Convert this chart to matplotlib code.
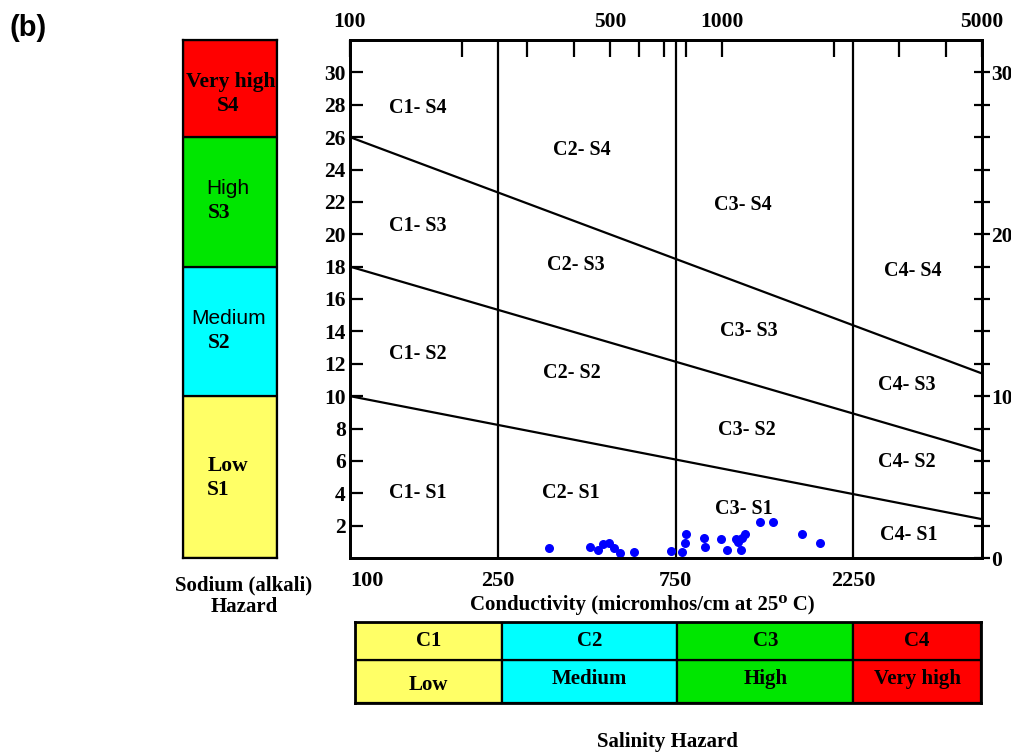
import matplotlib
matplotlib.use('Agg')
import matplotlib.pyplot as plt
from matplotlib.ticker import FixedLocator, NullFormatter

SERIF = 'Liberation Serif'
SANS = 'Liberation Sans'

# class limits
ec_bounds = [100, 250, 750, 2250, 5000]
sar_bounds = [0, 10, 18, 26, 32]
hazard_colors = ['#ffff66', '#00ffff', '#00e600', '#ff0000']

# SAR class boundary lines: value at EC=100 and at EC=5000
line_left = [10, 18, 26]
line_right = [2.4, 6.6, 11.4]

# samples: conductivity (micromhos/cm) and SAR
ec = [342, 443, 465, 480, 498, 514, 533, 579, 730, 782, 797, 802, 895, 899,
      993, 1033, 1089, 1107, 1125, 1135, 1151, 1262, 1374, 1637, 1837]
sar = [0.64, 0.70, 0.50, 0.85, 0.95, 0.64, 0.33, 0.39, 0.45, 0.39, 0.91, 1.47,
       1.22, 0.70, 1.18, 0.50, 1.20, 1.01, 0.50, 1.26, 1.49, 2.25, 2.25, 1.49, 0.91]

# zone labels and where they sit (EC, SAR)
zone_names = ['C1- S4', 'C2- S4', 'C3- S4', 'C4- S4',
              'C1- S3', 'C2- S3', 'C3- S3', 'C4- S3',
              'C1- S2', 'C2- S2', 'C3- S2', 'C4- S2',
              'C1- S1', 'C2- S1', 'C3- S1', 'C4- S1']
zone_ec = [152, 420, 1139, 3263,
           152, 405, 1182, 3144,
           152, 395, 1167, 3144,
           152, 393, 1146, 3183]
zone_sar = [27.8, 25.2, 21.8, 17.7,
            20.5, 18.1, 14.0, 10.7,
            12.6, 11.4, 7.9, 5.9,
            4.0, 4.0, 3.0, 1.4]

left_ticks = list(range(2, 31, 2))
right_ticks = list(range(0, 31, 2))
right_labels = ['0', '10', '20', '30']
bottom_ticks = [100, 250, 750, 2250]
top_labels = [100, 500, 1000, 5000]
top_minor = [200, 300, 400, 600, 700, 800, 2000, 3000, 4000]

salinity_class = ['C1', 'C2', 'C3', 'C4']
salinity_name = ['Low', 'Medium', 'High', 'Very high']

W, H = 1012, 754
fig = plt.figure(figsize=(W / 100, H / 100), dpi=100)

def fx(px):
    return px / W

def fy(py):
    return 1 - py / H

bold = dict(family=SERIF, weight='bold')

# ---- main diagram ----
ax = fig.add_axes([fx(350), fy(558), fx(632), 518 / H])
ax.set_xscale('log')
ax.set_xlim(ec_bounds[0], ec_bounds[-1])
ax.set_ylim(sar_bounds[0], sar_bounds[-1])
for s in ax.spines.values():
    s.set_linewidth(2)

for v in ec_bounds[1:-1]:
    ax.axvline(v, color='black', lw=1.6)
for a, b in zip(line_left, line_right):
    ax.plot([ec_bounds[0], ec_bounds[-1]], [a, b], color='black', lw=1.6)

ax.scatter(ec, sar, s=30, color='#0000ff', zorder=5, clip_on=False)

for name, x, y in zip(zone_names, zone_ec, zone_sar):
    ax.text(x, y, name, ha='center', va='center', fontsize=14.5, **bold)

# left axis
ax.yaxis.set_major_locator(FixedLocator(left_ticks))
ax.set_yticklabels([str(t) for t in left_ticks])
ax.tick_params(axis='y', direction='in', length=9, width=1.6, pad=3, labelsize=15.5)
# bottom axis
ax.xaxis.set_major_locator(FixedLocator(bottom_ticks))
ax.xaxis.set_minor_formatter(NullFormatter())
ax.tick_params(axis='x', which='both', length=0, pad=9, labelsize=16)
ax.set_xticklabels([str(t) for t in bottom_ticks])
lbls = ax.get_xticklabels()
lbls[0].set_ha('left')
for t in ax.get_xticklabels() + ax.get_yticklabels():
    t.set_fontfamily(SERIF)
    t.set_fontweight('bold')

# right axis
axr = ax.twinx()
axr.set_ylim(ax.get_ylim())
axr.yaxis.set_major_locator(FixedLocator(right_ticks))
axr.set_yticklabels([str(t) if str(t) in right_labels else '' for t in right_ticks])
axr.tick_params(axis='y', direction='inout', length=11, width=1.6, pad=1, labelsize=15.5)
for t in axr.get_yticklabels():
    t.set_fontfamily(SERIF)
    t.set_fontweight('bold')
for s in axr.spines.values():
    s.set_linewidth(2)

# top axis
axt = ax.twiny()
axt.set_xscale('log')
axt.set_xlim(ax.get_xlim())
axt.xaxis.set_major_locator(FixedLocator(top_labels))
axt.xaxis.set_minor_locator(FixedLocator(top_minor))
axt.xaxis.set_minor_formatter(NullFormatter())
axt.set_xticklabels([str(t) for t in top_labels])
axt.tick_params(axis='x', which='both', direction='in', length=12, width=1.6,
                pad=6, labelsize=15.5)
for t in axt.get_xticklabels():
    t.set_fontfamily(SERIF)
    t.set_fontweight('bold')

fig.text(fx(642), fy(605), 'Conductivity (micromhos/cm at 25\u2070 C)',
         ha='center', va='center', fontsize=15, family=[SERIF, 'DejaVu Serif'],
         weight='bold')

# ---- sodium hazard bar ----
axb = fig.add_axes([fx(183), fy(558), fx(94), 518 / H])
axb.set_xlim(0, 1)
axb.set_ylim(sar_bounds[0], sar_bounds[-1])
for lo, hi, c in zip(sar_bounds[:-1], sar_bounds[1:], hazard_colors):
    axb.bar(0.5, hi - lo, bottom=lo, width=1, color=c, edgecolor='black', lw=1.6)
axb.set_xticks([])
axb.set_yticks([])
for s in axb.spines.values():
    s.set_linewidth(1.6)

axb.text(0.51, 29.4, 'Very high', ha='center', va='center', fontsize=15.5, **bold)
axb.text(0.48, 27.9, 'S4', ha='center', va='center', fontsize=15.5, **bold)
axb.text(0.48, 22.8, 'High', ha='center', va='center', fontsize=15, family=SANS)
axb.text(0.38, 21.3, 'S3', ha='center', va='center', fontsize=15.5, **bold)
axb.text(0.49, 14.8, 'Medium', ha='center', va='center', fontsize=15, family=SANS)
axb.text(0.38, 13.3, 'S2', ha='center', va='center', fontsize=15.5, **bold)
axb.text(0.48, 5.7, 'Low', ha='center', va='center', fontsize=15.5, **bold)
axb.text(0.37, 4.2, 'S1', ha='center', va='center', fontsize=15.5, **bold)

fig.text(fx(244), fy(585), 'Sodium (alkali)', ha='center', va='center', fontsize=15, **bold)
fig.text(fx(244), fy(607), 'Hazard', ha='center', va='center', fontsize=15, **bold)

# ---- salinity hazard table ----
axs = fig.add_axes([fx(355), fy(703), fx(626), 81 / H])
axs.set_xscale('log')
axs.set_xlim(ec_bounds[0], ec_bounds[-1])
axs.set_ylim(0, 2)
for i, c in enumerate(hazard_colors):
    lo, hi = ec_bounds[i], ec_bounds[i + 1]
    axs.bar(lo, 1.06, bottom=0, width=hi - lo, align='edge', color=c,
            edgecolor='black', lw=1.6)
    axs.bar(lo, 0.94, bottom=1.06, width=hi - lo, align='edge', color=c,
            edgecolor='black', lw=1.6)
    xm = (lo * hi) ** 0.5
    axs.text(xm, 1.52, salinity_class[i], ha='center', va='center', fontsize=15, **bold)
    axs.text(xm, 0.45 if i == 0 else 0.6, salinity_name[i], ha='center', va='center',
             fontsize=15, **bold)
axs.set_xticks([])
axs.set_yticks([])
axs.minorticks_off()
for s in axs.spines.values():
    s.set_linewidth(2)

fig.text(fx(667), fy(742), 'Salinity Hazard', ha='center', va='center', fontsize=15, **bold)
fig.text(fx(28), fy(28), '(b)', ha='center', va='center', fontsize=21,
         family=SANS, weight='bold')

fig.savefig('out.png', dpi=100)
